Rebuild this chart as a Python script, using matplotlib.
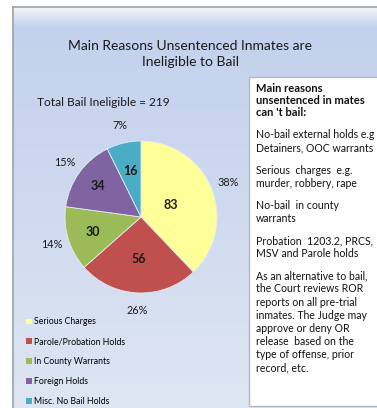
import numpy as np
import matplotlib
matplotlib.use("Agg")
import matplotlib.pyplot as plt
from matplotlib.patches import Rectangle
from matplotlib.colors import to_rgb

plt.rcParams['font.family'] = ['Lato', 'DejaVu Sans']

# ---- data ----
categories = ["Serious Charges", "Parole/Probation Holds", "In County Warrants",
              "Foreign Holds", "Misc. No Bail Holds"]
counts = [83, 56, 30, 34, 16]
percent_labels = ["38%", "26%", "14%", "15%", "7%"]
total_label = "Total Bail Ineligible = 219"
title_text = "Main Reasons Unsentenced Inmates are\nIneligible to Bail"

notes_heading = ["Main reasons", "unsentenced in mates", "can 't bail:"]
notes = [
    ["No-bail external holds e.g", "Detainers, OOC warrants"],
    ["Serious  charges  e.g.", "murder, robbery, rape"],
    ["No-bail  in county", "warrants"],
    ["Probation  1203.2, PRCS,", "MSV and Parole holds"],
    ["As an alternative to bail,", "the Court reviews ROR", "reports on all pre-trial",
     "inmates. The Judge may", "approve or deny OR", "release  based on the",
     "type of offense, prior", "record, etc."],
]

colors = ["#FFFF99", "#C0504D", "#9BBB59", "#8064A2", "#4BACC6"]

W, H = 377, 408
fig = plt.figure(figsize=(W / 100, H / 100), dpi=100)
fig.patch.set_facecolor("white")

# background canvas in pixel coordinates
bg = fig.add_axes([0, 0, 1, 1])
bg.axis("off")

# vertical gradient for the chart area
ys = np.linspace(0, 1, 400)
stops_y = [0.0, 0.05, 0.45, 1.0]
stops_c = np.array([to_rgb("#f2f5fb"), to_rgb("#c3d1ec"),
                    to_rgb("#cdd9ef"), to_rgb("#dfe6f3")])
grad = np.stack([np.interp(ys, stops_y, stops_c[:, k]) for k in range(3)], axis=-1)
grad = np.repeat(grad[:, None, :], 2, axis=1)
bg.imshow(grad, extent=[13, W + 2, H + 2, 7], aspect="auto", zorder=0,
          interpolation="bilinear")
bg.set_xlim(0, W)
bg.set_ylim(H, 0)
bg.plot([12.5, 12.5], [6.5, H + 2], color="#a0a0a0", lw=1.2, zorder=1)
bg.plot([12.5, W + 2], [6.5, 6.5], color="#a0a0a0", lw=1.2, zorder=1)

# notes box
bg.add_patch(Rectangle((248.5, 76.5), 140, 329, facecolor="white",
                       edgecolor="#b8b8b8", lw=1.0, zorder=2))

bg.text(190, 54, title_text, ha="center", va="center", fontsize=10,
        linespacing=1.5, color="#1a1a1a", zorder=3)
bg.text(37, 102, total_label, ha="left", va="center", fontsize=8.6,
        color="#1a1a1a", zorder=3)

# notes text, one line at a time
note_fs = 7.6
line_step = 13.2
para_gap = 22
y = 88
for i, line in enumerate(notes_heading):
    bg.text(256, y, line, ha="left", va="center", fontsize=8.0,
            fontweight="bold", color="#111111", zorder=3)
    if i < len(notes_heading) - 1:
        y += 12.5
for para in notes:
    y += para_gap
    for i, line in enumerate(para):
        if i:
            y += line_step
        bg.text(256, y, line, ha="left", va="center", fontsize=note_fs,
                color="#111111", zorder=3)

# ---- pie ----
cx, cy, r = 141, 217, 76
pax = fig.add_axes([(cx - r) / W, (H - cy - r) / H, 2 * r / W, 2 * r / H])
wedges, texts = pax.pie(counts, colors=colors, startangle=90, counterclock=False,
                        labels=percent_labels, labeldistance=1.23,
                        wedgeprops=dict(edgecolor="#e6ebf4", linewidth=0.6),
                        textprops=dict(fontsize=7.8, color="#1a1a1a"))
for t in texts:
    t.set_ha("center")
    t.set_va("center")
pax.set_xlim(-1, 1)
pax.set_ylim(-1, 1)
pax.set_aspect("equal")
pax.axis("off")

# value labels inside each slice
inner_dist = [0.42, 0.55, 0.66, 0.70, 0.62]
for w, v, d in zip(wedges, counts, inner_dist):
    ang = np.deg2rad((w.theta1 + w.theta2) / 2)
    pax.text(d * np.cos(ang), d * np.sin(ang), str(v), ha="center", va="center",
             fontsize=9, fontweight="bold", color="#1a1a1a")

# legend
leg = fig.legend(wedges, categories, loc="upper left",
                 bbox_to_anchor=(22 / W, (H - 313) / H), frameon=False,
                 fontsize=6.3, handlelength=0.6, handleheight=0.6,
                 handletextpad=0.25, labelspacing=1.25, borderpad=0)
for h in leg.legend_handles:
    h.set_edgecolor("none")

fig.savefig("out.png", dpi=100, facecolor="white")
